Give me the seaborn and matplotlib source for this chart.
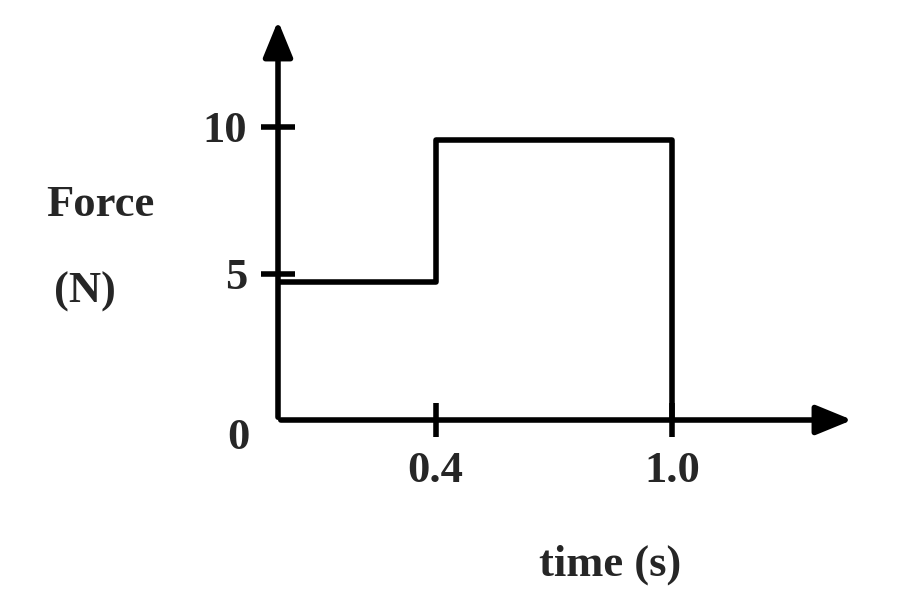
import matplotlib
matplotlib.use("Agg")
import matplotlib.pyplot as plt
import seaborn as sns
import pandas as pd

time_s = [0.0, 0.4, 1.0]
force_n = [4.7, 9.55, 0.0]
x_ticks = [0.4, 1.0]
x_labels = ["0.4", "1.0"]
y_ticks = [5, 10]
y_labels = ["5", "10"]

sns.set_style("white")
plt.rcParams['font.family'] = ['Liberation Serif', 'DejaVu Serif']

fig = plt.figure(figsize=(9, 6.07), dpi=100)
W, H = 900, 607
ax = fig.add_axes([278 / W, 1 - 420 / H, (855 - 278) / W, (420 - 18) / H])
df = pd.DataFrame({"t": time_s, "F": force_n})
sns.lineplot(data=df, x="t", y="F", drawstyle="steps-post", color="black", lw=4, ax=ax)
ax.set_xlim(0, (855 - 278) / 394)
ax.set_ylim(0, (420 - 18) / 29.3)
for s in ax.spines.values():
    s.set_visible(False)
ax.annotate("", xy=(1, 0), xytext=(0, 0), xycoords="axes fraction",
            arrowprops=dict(arrowstyle="-|>,head_length=2.2,head_width=0.9", lw=4, color="black"))
ax.annotate("", xy=(0, 1), xytext=(0, 0), xycoords="axes fraction",
            arrowprops=dict(arrowstyle="-|>,head_length=2.2,head_width=0.9", lw=4, color="black"))
ax.set_xticks(x_ticks)
ax.set_xticklabels(x_labels, fontsize=32, fontweight="bold")
ax.set_yticks(y_ticks)
ax.set_yticklabels(y_labels, fontsize=32, fontweight="bold")
ax.tick_params(axis="both", bottom=True, left=True, direction="inout", length=24,
               width=4, color="black", pad=10)
ax.set_xlabel("")
ax.set_ylabel("")
kw = dict(fontsize=32, fontweight="bold", ha="center", va="center")
fig.text(238 / W, 1 - 438 / H, "0", **kw)
fig.text(100 / W, 1 - 205 / H, "Force", **kw)
fig.text(85 / W, 1 - 292 / H, "(N)", **kw)
fig.text(610 / W, 1 - 565 / H, "time (s)", **kw)
fig.savefig("out.png", dpi=100)
